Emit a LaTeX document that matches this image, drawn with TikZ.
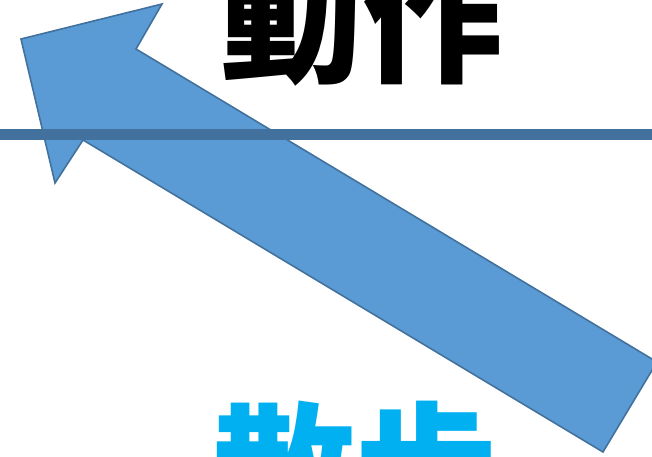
\documentclass[tikz,border=0pt]{standalone}
\usepackage{fontspec}
\newfontfamily\jpfont{Noto Sans CJK JP}
\definecolor{arrowfill}{HTML}{5B9BD5}
\definecolor{arrowedge}{HTML}{41719C}
\definecolor{walkcyan}{HTML}{00B0F0}
\tikzset{
  bigword/.style={font=\jpfont\bfseries\fontsize{142}{142}\selectfont, inner sep=0pt, anchor=base west},
}
\begin{document}
\begin{tikzpicture}[x=1pt, y=1pt]
\useasboundingbox (0,0) rectangle (652,456);
\clip (0,0) rectangle (652,456);
\node[bigword, text=black] (action) at (220,384) {動作};
\node[bigword, text=walkcyan] (walk) at (213,-66) {散歩};
% arrow
\coordinate (tip) at (21,417);
\coordinate (barbA) at (162,452);
\coordinate (notchA) at (136,407);
\coordinate (endA) at (657,94);
\coordinate (endB) at (603,4);
\coordinate (notchB) at (83,316);
\coordinate (barbB) at (55,273);
\draw[arrowedge, line width=1.6pt, fill=arrowfill, line join=miter]
  (tip) -- (barbA) -- (notchA) -- (endA) -- (endB) -- (notchB) -- (barbB) -- cycle;
% rule
\coordinate (ruleL) at (0,322);
\coordinate (ruleR) at (652,322);
\draw[arrowedge, line width=11pt] (ruleL) -- (ruleR);
\end{tikzpicture}
\end{document}
